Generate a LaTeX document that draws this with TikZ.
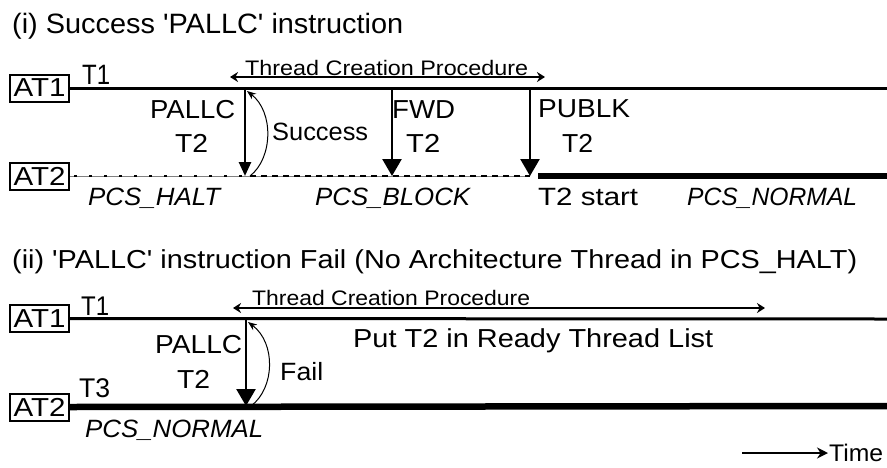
\documentclass[tikz,border=0pt]{standalone}
\usepackage{fontspec}
\setmainfont{Liberation Sans}[Ligatures=TeXOff]
\usetikzlibrary{arrows.meta}
% text set at a given size and stretched to a given width (height kept)
\newcommand\fitw[3]{\resizebox{#1pt}{\height}{\fontsize{#2}{#2}\selectfont #3}}
\begin{document}
\begin{tikzpicture}[x=1pt,y=-1pt,
  lbl/.style={inner sep=0pt, anchor=base west},
  atbox/.style={draw, line width=2pt, minimum width=59pt, minimum height=27pt, inner sep=0pt},
  timeline/.style={line width=3pt},
  busy/.style={line width=6.5pt},
  idle/.style={line width=0.8pt, gray},
  halt/.style={line width=2.5pt, dash pattern=on 2.5pt off 12.5pt},
  block/.style={line width=2.5pt, dash pattern=on 6pt off 5pt},
  call/.style={line width=2.5pt, -{Triangle[length=17pt,width=19pt]}},
  callsmall/.style={line width=2.5pt, -{Triangle[length=14pt,width=12pt]}},
  reply/.style={line width=1pt, -{Stealth[length=9pt,width=7pt]}},
  span/.style={line width=1.5pt, {Stealth[length=8pt,width=10pt]}-{Stealth[length=8pt,width=10pt]}},
  clock/.style={line width=2pt, -{Stealth[length=11pt,width=11pt]}},
]
\useasboundingbox (0,0) rectangle (887,467);

% ---------- (i) successful PALLC ----------
\node[lbl] (title1) at (12,33) {\fitw{391}{28}{(i) Success 'PALLC' instruction}};

\node[atbox] (at1a) at (39.5,88) {\fitw{52}{26}{AT1}};
\node[atbox] (at2a) at (39.5,176) {\fitw{52}{26}{AT2}};

\coordinate (l1end) at (887,88);
\draw[timeline] (at1a.east) -- (l1end);

\coordinate (p1top) at (245,88);
\coordinate (p1bot) at (245,176);
\coordinate (f1top) at (392,88);
\coordinate (f1bot) at (392,176);
\coordinate (u1top) at (530,88);
\coordinate (u1bot) at (530,176);
\coordinate (s1from) at (250,176);
\coordinate (s1to) at (247,91);
\coordinate (n1start) at (538,176);
\coordinate (n1end) at (887,176);
\coordinate (b1start) at (250,176);

% AT2 line: halted, blocked, then running
\draw[idle] (at2a.east) -- (u1bot);
\draw[halt] (at2a.east) ++(4,0) -- (p1bot);
\draw[block] (b1start) -- (u1bot);
\draw[busy] (n1start) -- (n1end);

\draw[callsmall] (p1top) -- (p1bot);
\draw[call] (f1top) -- (f1bot);
\draw[call] (u1top) -- (u1bot);
\draw[reply] (s1from) .. controls (273,158) and (274,112) .. (s1to);

\coordinate (tc1l) at (230,77);
\coordinate (tc1r) at (545,77);
\draw[span] (tc1l) -- (tc1r);
\node[lbl] (tc1) at (245,75) {\fitw{283}{21}{Thread Creation Procedure}};

\node[lbl] (t1a) at (82,84) {\fitw{28}{28}{T1}};
\node[lbl] (pallc1) at (150,118) {\fitw{85}{26}{PALLC}};
\node[lbl] (pallc1t) at (175,152) {\fitw{33}{26}{T2}};
\node[lbl] (succ) at (272,140) {\fitw{96}{25}{Success}};
\node[lbl] (fwd) at (392,118) {\fitw{63}{26}{FWD}};
\node[lbl] (fwdt) at (406,152) {\fitw{34}{26}{T2}};
\node[lbl] (publk) at (538,117) {\fitw{92}{26}{PUBLK}};
\node[lbl] (publkt) at (562,152) {\fitw{31}{26}{T2}};
\node[lbl] (halt1) at (88,205) {\fitw{132}{25}{\itshape PCS\_HALT}};
\node[lbl] (block1) at (315,205) {\fitw{155}{25}{\itshape PCS\_BLOCK}};
\node[lbl] (start1) at (538,205) {\fitw{100}{25}{T2 start}};
\node[lbl] (norm1) at (687,205) {\fitw{170}{25}{\itshape PCS\_NORMAL}};

% ---------- (ii) failed PALLC ----------
\node[lbl] (title2) at (12,268) {\fitw{845}{26}{(ii) 'PALLC' instruction Fail (No Architecture Thread in PCS\_HALT)}};

\node[atbox] (at1b) at (39.5,318.5) {\fitw{52}{26}{AT1}};
\node[atbox] (at2b) at (39.5,407) {\fitw{52}{26}{AT2}};

\coordinate (l2end) at (887,319);
\coordinate (n2end) at (887,406);
\draw[timeline] (at1b.east) -- (l2end);
\draw[busy] (at2b.east) -- (n2end);

\coordinate (p2top) at (246,319);
\coordinate (p2bot) at (246,406);
\coordinate (f2from) at (251,406);
\coordinate (f2to) at (248,322);
\draw[call] (p2top) -- (p2bot);
\draw[reply] (f2from) .. controls (275,388) and (276,343) .. (f2to);

\coordinate (tc2l) at (233,308);
\coordinate (tc2r) at (765,308);
\draw[span] (tc2l) -- (tc2r);
\node[lbl] (tc2) at (252,305) {\fitw{278}{21}{Thread Creation Procedure}};

\node[lbl] (t1b) at (81,315) {\fitw{28}{27}{T1}};
\node[lbl] (t3b) at (79,397) {\fitw{31}{27}{T3}};
\node[lbl] (pallc2) at (155,353) {\fitw{87}{26}{PALLC}};
\node[lbl] (pallc2t) at (177,388) {\fitw{33}{26}{T2}};
\node[lbl] (fail) at (280,380) {\fitw{43}{25}{Fail}};
\node[lbl] (ready) at (353,347) {\fitw{360}{26}{Put T2 in Ready Thread List}};
\node[lbl] (norm2) at (85,437) {\fitw{178}{25}{\itshape PCS\_NORMAL}};

% time axis
\coordinate (tstart) at (742,453);
\coordinate (tend) at (828,453);
\draw[clock] (tstart) -- (tend);
\node[lbl] (time) at (829,461) {\fitw{54}{24}{Time}};
\end{tikzpicture}
\end{document}
